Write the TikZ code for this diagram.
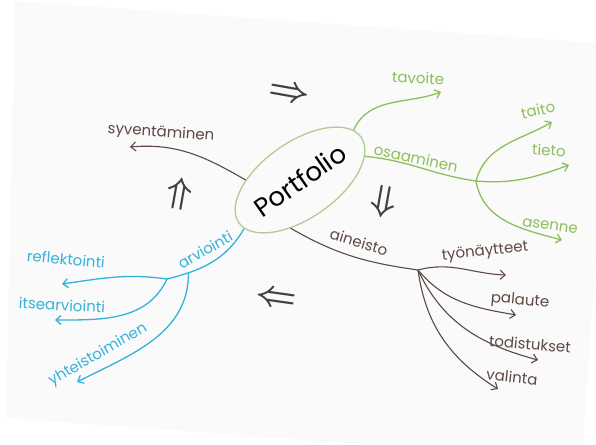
\documentclass[tikz,border=0pt]{standalone}
\usepackage{fontspec}
\setmainfont{Poppins}
\usepackage{tikz}
\usetikzlibrary{arrows.meta,shapes.geometric}
\definecolor{mapgreen}{HTML}{8DBE5C}
\definecolor{mapbrown}{HTML}{5E4843}
\definecolor{mapblue}{HTML}{35B2DA}
\definecolor{ovalgreen}{HTML}{B2CB96}
\definecolor{paper}{HTML}{FAFAFA}

\begin{document}
\begin{tikzpicture}[x=1pt, y=1pt,
  >={Straight Barb[length=5pt,width=9pt]},
  hub/.style  ={ellipse, draw=ovalgreen, line width=1.3pt,
                minimum width=130pt, minimum height=76pt, inner sep=0pt,
                rotate=35, font=\fontsize{26}{28}\selectfont},
  lbl/.style  ={inner sep=1pt, font=\fontsize{15}{17}\selectfont},
  cyc/.style  ={inner sep=0pt, text=black!75, font=\boldmath,
                scale=1.45, transform shape},
  gline/.style={mapgreen, line width=1.3pt},
  bline/.style={mapbrown, line width=1.1pt},
  aline/.style={mapblue, line width=1.3pt}
]
  \clip (0,0) rectangle (596,-444);
  \fill[paper] (15,-1) -- (610,-44) -- (582,-460) -- (6,-418) -- cycle;

  \node[hub] (pf) at (300,-180) {Portfolio};

  % cycle arrows
  \node[cyc, rotate=-10] (c1) at (289,-94)  {\fontsize{24}{24}\selectfont$\Rightarrow$};
  \node[cyc, rotate=-10] (c2) at (384,-202) {\fontsize{24}{24}\selectfont$\Downarrow$};
  \node[cyc, rotate=-8]  (c3) at (276,-299) {\fontsize{24}{24}\selectfont$\Leftarrow$};
  \node[cyc, rotate=-10] (c4) at (180,-194) {\fontsize{24}{24}\selectfont$\Uparrow$};

  % green
  \coordinate (osb)    at (476,-181);
  \coordinate (tavtip) at (441,-92);
  \coordinate (taitip) at (552,-122);
  \coordinate (tietip) at (569,-165);
  \coordinate (asetip) at (562,-240);
  \draw[gline,->] (pf.8)   to[out=65,in=200]  (tavtip);
  \draw[gline]    (pf.-15) to[out=-5,in=172]  (osb);
  \draw[gline,->] (osb)    to[out=75,in=210]  (taitip);
  \draw[gline,->] (osb)    to[out=-5,in=200]  (tietip);
  \draw[gline,->] (osb)    to[out=-80,in=165] (asetip);
  \node[lbl, text=mapgreen, rotate=-2]  (tav) at (418,-78)  {tavoite};
  \node[lbl, text=mapgreen, rotate=-12] (osa) at (416,-158) {osaaminen};
  \node[lbl, text=mapgreen, rotate=12]  (tai) at (538,-110) {taito};
  \node[lbl, text=mapgreen, rotate=-3]  (tie) at (549,-150) {tieto};
  \node[lbl, text=mapgreen, rotate=-8]  (ase) at (550,-226) {asenne};

  % brown
  \coordinate (aib)    at (418,-270);
  \coordinate (syvtip) at (130,-147);
  \coordinate (tyotip) at (506,-275);
  \coordinate (paltip) at (516,-315);
  \coordinate (todtip) at (538,-360);
  \coordinate (valtip) at (498,-389);
  \draw[bline,->] (pf.145)  to[out=150,in=5]   (syvtip);
  \draw[bline]    (pf.-136) to[out=-30,in=172] (aib);
  \draw[bline,->] (aib) to[out=15,in=178]  (tyotip);
  \draw[bline,->] (aib) to[out=-50,in=170] (paltip);
  \draw[bline,->] (aib) to[out=-65,in=165] (todtip);
  \draw[bline,->] (aib) to[out=-82,in=148] (valtip);
  \node[lbl, text=mapbrown, rotate=-4]  (syv) at (161,-133) {syventäminen};
  \node[lbl, text=mapbrown, rotate=-17] (ain) at (359,-242) {aineisto};
  \node[lbl, text=mapbrown, rotate=6]   (tyo) at (485,-252) {työnäytteet};
  \node[lbl, text=mapbrown, rotate=-5]  (pal) at (520,-301) {palaute};
  \node[lbl, text=mapbrown, rotate=-5]  (tod) at (530,-344) {todistukset};
  \node[lbl, text=mapbrown, rotate=-6]  (val) at (512,-377) {valinta};

  % blue
  \coordinate (arb)    at (167,-279);
  \coordinate (reftip) at (62,-284);
  \coordinate (itstip) at (55,-320);
  \coordinate (yhttip) at (77,-382);
  \draw[aline] (pf.186) to[out=-120,in=14] coordinate[pos=0.78] (arb2) (arb);
  \draw[aline,->] (arb)  to[out=172,in=8]   (reftip);
  \draw[aline,->] (arb)  to[out=-115,in=0]  (itstip);
  \draw[aline,->] (arb2) to[out=-90,in=27]  (yhttip);
  \node[lbl, text=mapblue, rotate=30] (arv) at (205,-250) {arviointi};
  \node[lbl, text=mapblue, rotate=-5] (ref) at (66,-259)  {reflektointi};
  \node[lbl, text=mapblue, rotate=-3] (its) at (62,-305)  {itsearviointi};
  \node[lbl, text=mapblue, rotate=30] (yht) at (98,-355)  {yhteistoiminen};
\end{tikzpicture}
\end{document}
